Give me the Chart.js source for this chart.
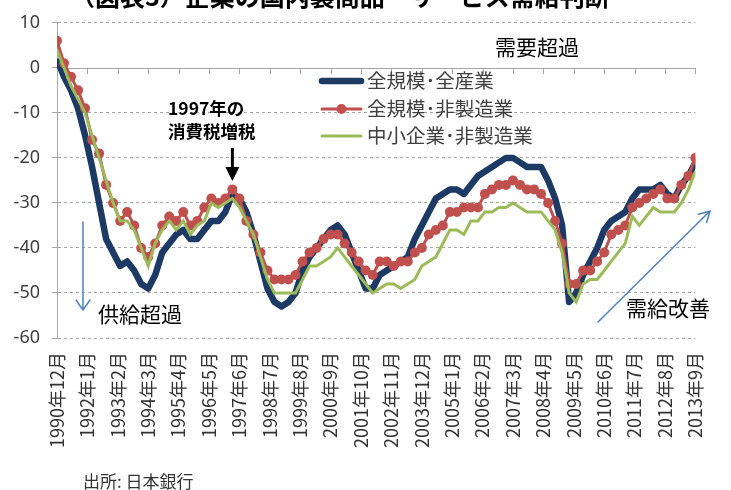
<!DOCTYPE html>
<html>
<head>
<meta charset="utf-8">
<script src="https://cdn.jsdelivr.net/npm/chart.js@4.4.0/dist/chart.umd.min.js"></script>
<style>
  html, body { margin: 0; padding: 0; background: #fff; }
  #wrap { width: 731px; height: 490px; }
</style>
</head>
<body>
<div id="wrap"><canvas id="supplyDemandChart" width="731" height="490"></canvas></div>
<script>
// 日銀短観：国内での製商品・サービス需給判断DI（四半期、1990年12月〜2013年9月）
const tickLabels = [
  "1990年12月", "1992年1月", "1993年2月", "1994年3月", "1995年4月", "1996年5月",
  "1997年6月", "1998年7月", "1999年8月", "2000年9月", "2001年10月", "2002年11月",
  "2003年12月", "2005年1月", "2006年2月", "2007年3月", "2008年4月", "2009年5月",
  "2010年6月", "2011年7月", "2012年8月", "2013年9月"
];

const seriesNames = ["全規模･全産業", "全規模･非製造業", "中小企業･非製造業"];

// 全規模・全産業
const allSizeAllIndustries = [
  2, -2, -5, -9, -15, -22, -30, -38, -41, -44, -43, -45, -48, -49, -46, -41,
  -39, -37, -36, -38, -38, -36, -34, -34, -32, -28, -29, -32, -37, -43, -49, -52,
  -53, -52, -50, -45, -42, -40, -38, -36, -35, -37, -41, -45, -49, -49, -46, -45,
  -44, -43, -42, -38, -35, -32, -29, -28, -27, -27, -28, -26, -24, -23, -22, -21,
  -20, -20, -21, -22, -22, -22, -25, -29, -35, -52, -50, -46, -43, -40, -36, -34,
  -33, -32, -29, -27, -27, -27, -26, -28, -29, -26, -24, -21
];

// 全規模・非製造業
const allSizeNonManufacturing = [
  6, 1, -2, -5, -9, -16, -19, -26, -30, -34, -32, -35, -40, -42, -39, -35,
  -33, -34, -32, -35, -34, -31, -29, -30, -29, -27, -29, -34, -37, -41, -45, -47,
  -47, -47, -46, -43, -41, -40, -38, -37, -37, -39, -41, -43, -45, -46, -43, -43,
  -44, -43, -43, -41, -40, -37, -36, -35, -32, -32, -31, -31, -31, -28, -27, -26,
  -26, -25, -26, -27, -27, -28, -30, -34, -39, -48, -48, -45, -45, -43, -41, -37,
  -36, -35, -31, -30, -29, -28, -27, -29, -29, -26, -24, -20
];

// 中小企業・非製造業
const smeNonManufacturing = [
  4, 0, -4, -7, -10, -15, -20, -25, -30, -34, -34, -36, -40, -44, -39, -36,
  -34, -36, -34, -37, -35, -34, -30, -31, -30, -29, -31, -34, -37, -42, -47, -50,
  -50, -50, -50, -47, -44, -44, -43, -42, -40, -42, -44, -46, -48, -50, -49, -48,
  -48, -49, -48, -47, -44, -43, -42, -39, -36, -36, -37, -34, -34, -32, -32, -31,
  -31, -30, -31, -32, -32, -32, -34, -36, -41, -50, -52, -48, -47, -47, -45, -43,
  -41, -39, -33, -35, -33, -31, -32, -32, -32, -30, -27, -23
];

// 四半期ごとの月数（1990年12月からの経過月）
const monthsPerQuarter = 3;
const monthsPerTick = 13;

function toPoints(values) {
  return values.map((v, i) => ({ x: i * monthsPerQuarter, y: v }));
}

const navy = "#1c3a64";
const red = "#c0504d";
const green = "#9bbb59";
const arrowBlue = "#4f81bd";
const jpFont = "'Noto Sans CJK JP', 'Noto Sans', sans-serif";

const decorations = {
  id: "decorations",
  beforeDatasetsDraw(chart) {
    const { ctx, chartArea, scales } = chart;
    const y0 = scales.y.getPixelForValue(0);
    ctx.save();
    ctx.strokeStyle = "#a6a6a6";
    ctx.lineWidth = 1;
    ctx.beginPath();
    ctx.moveTo(chartArea.left, Math.round(y0) + 0.5);
    ctx.lineTo(chartArea.right, Math.round(y0) + 0.5);
    scales.x.ticks.forEach(t => {
      const px = Math.round(scales.x.getPixelForValue(t.value)) + 0.5;
      ctx.moveTo(px, Math.round(y0));
      ctx.lineTo(px, Math.round(y0) + 6);
    });
    ctx.stroke();
    ctx.restore();
  },
  afterDraw(chart) {
    const { ctx, scales } = chart;
    ctx.save();

    // 見出し（上端で切れている）
    ctx.fillStyle = "#000";
    ctx.font = "bold 25px " + jpFont;
    ctx.textBaseline = "alphabetic";
    ctx.textAlign = "left";
    ctx.fillText("（図表3）企業の国内製商品・サービス需給判断", 70, 6);

    // 凡例
    const rows = [
      { name: seriesNames[0], color: navy, width: 6.5, marker: false, y: 81 },
      { name: seriesNames[1], color: red, width: 3, marker: true, y: 109 },
      { name: seriesNames[2], color: green, width: 3, marker: false, y: 136 }
    ];
    ctx.font = "19.5px " + jpFont;
    ctx.textBaseline = "middle";
    rows.forEach(r => {
      ctx.strokeStyle = r.color;
      ctx.lineWidth = r.width;
      ctx.lineCap = "round";
      ctx.beginPath();
      ctx.moveTo(322, r.y);
      ctx.lineTo(361, r.y);
      ctx.stroke();
      if (r.marker) {
        ctx.fillStyle = r.color;
        ctx.beginPath();
        ctx.arc(341.5, r.y, 5, 0, Math.PI * 2);
        ctx.fill();
      }
      ctx.fillStyle = "#404040";
      ctx.fillText(r.name, 367, r.y);
    });

    // 注記
    ctx.fillStyle = "#000";
    ctx.font = "21px " + jpFont;
    ctx.fillText("需要超過", 495, 47);
    ctx.fillText("供給超過", 98, 314);
    ctx.fillText("需給改善", 626, 308);

    ctx.font = "bold 17.5px " + jpFont;
    ctx.fillText("1997年の", 168, 108);
    ctx.fillText("消費税増税", 168, 131);

    ctx.font = "17px " + jpFont;
    ctx.fillStyle = "#333";
    ctx.fillText("出所: 日本銀行", 83, 482);

    // 消費税増税の矢印
    const ax = scales.x.getPixelForValue(75);
    ctx.strokeStyle = "#000";
    ctx.fillStyle = "#000";
    ctx.lineWidth = 3;
    ctx.lineCap = "butt";
    ctx.beginPath();
    ctx.moveTo(ax, 148);
    ctx.lineTo(ax, 170);
    ctx.stroke();
    ctx.beginPath();
    ctx.moveTo(ax - 7, 167);
    ctx.lineTo(ax + 7, 167);
    ctx.lineTo(ax, 181);
    ctx.closePath();
    ctx.fill();

    // 青い細矢印
    ctx.strokeStyle = arrowBlue;
    ctx.lineWidth = 1.5;
    ctx.lineCap = "round";
    ctx.beginPath();
    ctx.moveTo(83, 222);
    ctx.lineTo(83, 310);
    ctx.moveTo(76, 300);
    ctx.lineTo(83, 310);
    ctx.lineTo(90, 300);
    ctx.stroke();

    const x1 = 598, y1 = 322, x2 = 710, y2 = 211;
    const ang = Math.atan2(y2 - y1, x2 - x1);
    ctx.beginPath();
    ctx.moveTo(x1, y1);
    ctx.lineTo(x2, y2);
    ctx.moveTo(x2 - 12 * Math.cos(ang - 0.5), y2 - 12 * Math.sin(ang - 0.5));
    ctx.lineTo(x2, y2);
    ctx.lineTo(x2 - 12 * Math.cos(ang + 0.5), y2 - 12 * Math.sin(ang + 0.5));
    ctx.stroke();

    ctx.restore();
  }
};

const ctx = document.getElementById("supplyDemandChart").getContext("2d");
const supplyDemandChart = new Chart(ctx, {
  type: "line",
  data: {
    datasets: [
      {
        label: seriesNames[0],
        data: toPoints(allSizeAllIndustries),
        borderColor: navy,
        borderWidth: 6.5,
        borderJoinStyle: "round",
        pointRadius: 0,
        order: 3
      },
      {
        label: seriesNames[1],
        data: toPoints(allSizeNonManufacturing),
        borderColor: red,
        borderWidth: 3,
        pointRadius: 5,
        pointBackgroundColor: red,
        pointBorderWidth: 0,
        order: 2
      },
      {
        label: seriesNames[2],
        data: toPoints(smeNonManufacturing),
        borderColor: green,
        borderWidth: 3,
        pointRadius: 0,
        order: 1
      }
    ]
  },
  options: {
    responsive: false,
    animation: false,
    devicePixelRatio: 1,
    layout: { padding: { top: 17, right: 21, left: 0, bottom: 0 } },
    plugins: {
      legend: { display: false },
      tooltip: { enabled: false },
      title: { display: false }
    },
    scales: {
      x: {
        type: "linear",
        min: 0,
        max: (tickLabels.length - 1) * monthsPerTick,
        afterBuildTicks: scale => {
          scale.ticks = tickLabels.map((_, i) => ({ value: i * monthsPerTick }));
        },
        afterFit: scale => { scale.height = 152; },
        ticks: {
          autoSkip: false,
          minRotation: 90,
          maxRotation: 90,
          padding: 14,
          color: "#333",
          font: { family: jpFont, size: 18 },
          callback: value => tickLabels[Math.round(value / monthsPerTick)]
        },
        grid: { display: false, drawTicks: false },
        border: { display: false }
      },
      y: {
        min: -60,
        max: 10,
        afterFit: scale => { scale.width = 57; },
        ticks: {
          stepSize: 10,
          padding: 12,
          color: "#404040",
          font: { family: "'Noto Sans', sans-serif", size: 18 }
        },
        grid: {
          color: c => (c.tick && c.tick.value === 0 ? "rgba(0,0,0,0)" : "#a6a6a6"),
          tickColor: "#a6a6a6",
          tickLength: 5,
          lineWidth: 1
        },
        border: { display: true, color: "#a6a6a6", dash: [3, 3] }
      }
    }
  },
  plugins: [decorations]
});
</script>
</body>
</html>
